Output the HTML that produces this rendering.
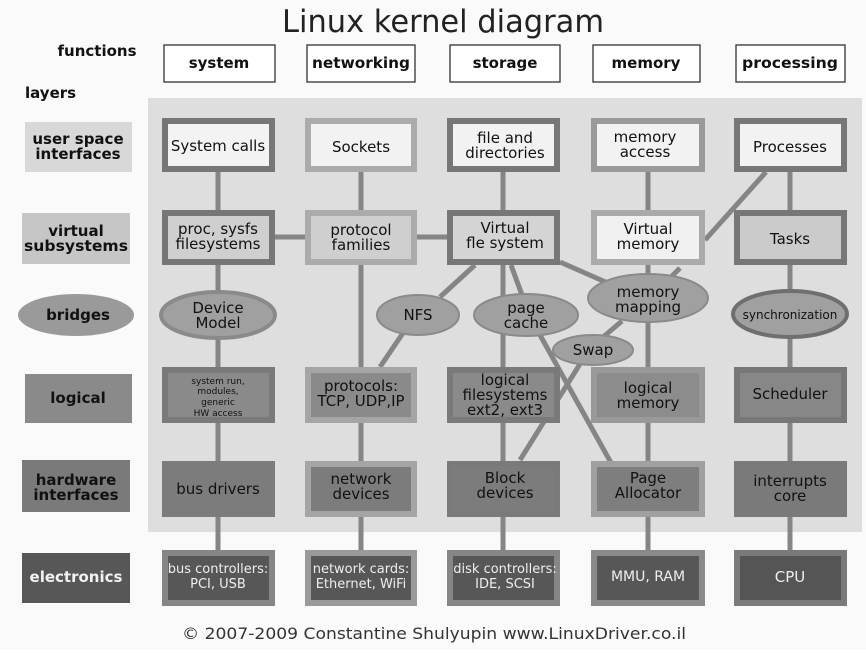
<!DOCTYPE html>
<html><head><meta charset="utf-8"><style>
html,body{margin:0;padding:0;background:#fff;}
svg text{font-family:"DejaVu Sans","Liberation Sans",sans-serif;}
</style></head><body>
<svg width="866" height="650" viewBox="0 0 866 650" xmlns="http://www.w3.org/2000/svg">
<rect width="866" height="650" fill="#fafafa"/>
<text x="443" y="32" font-size="31" text-anchor="middle" fill="#222" textLength="322" lengthAdjust="spacingAndGlyphs">Linux kernel diagram</text>
<g font-weight="bold" font-size="15" fill="#111">
<text x="97" y="56" text-anchor="middle">functions</text>
<text x="25" y="98">layers</text>
</g>
<g fill="#fff" stroke="#333" stroke-width="1.3">
<rect x="164" y="45" width="111" height="37"/>
<rect x="307" y="45" width="108" height="37"/>
<rect x="450" y="45" width="110" height="37"/>
<rect x="593" y="45" width="107" height="37"/>
<rect x="736" y="45" width="109" height="37"/>
</g>
<g font-weight="bold" font-size="15" fill="#111" text-anchor="middle">
<text x="219" y="68">system</text>
<text x="361" y="68" textLength="98" lengthAdjust="spacingAndGlyphs">networking</text>
<text x="505" y="68">storage</text>
<text x="646" y="68">memory</text>
<text x="790" y="68" textLength="96" lengthAdjust="spacingAndGlyphs">processing</text>
</g>
<!-- panel -->
<rect x="148" y="98" width="714" height="434" fill="#dedede"/>
<!-- left labels -->
<rect x="25" y="122" width="107" height="50" fill="#d8d8d8"/>
<rect x="22" y="213" width="108" height="51" fill="#c6c6c6"/>
<ellipse cx="76" cy="315" rx="58" ry="21" fill="#9a9a9a"/>
<rect x="25" y="374" width="107" height="49" fill="#8a8a8a"/>
<rect x="22" y="460" width="108" height="52" fill="#7a7a7a"/>
<rect x="22" y="553" width="108" height="50" fill="#575757"/>
<g font-weight="bold" font-size="15" fill="#111" text-anchor="middle">
<text x="78" y="144">user space</text><text x="78" y="159">interfaces</text>
<text x="76" y="236">virtual</text><text x="76" y="251" textLength="104" lengthAdjust="spacingAndGlyphs">subsystems</text>
<text x="78" y="320">bridges</text>
<text x="78" y="403">logical</text>
<text x="76" y="485">hardware</text><text x="76" y="500">interfaces</text>
<text x="76" y="582" fill="#f2f2f2">electronics</text>
</g>
<!-- connectors -->
<g stroke="#858585" stroke-width="5" fill="none">
<line x1="218" y1="172" x2="218" y2="550"/>
<line x1="361" y1="172" x2="361" y2="550"/>
<line x1="503" y1="172" x2="503" y2="550"/>
<line x1="648" y1="172" x2="648" y2="550"/>
<line x1="790" y1="172" x2="790" y2="550"/>
<line x1="275" y1="237" x2="447" y2="237"/>
<line x1="475" y1="265" x2="440" y2="297"/>
<line x1="403" y1="333" x2="380" y2="367"/>
<line x1="511" y1="265" x2="522" y2="295"/>
<line x1="560" y1="262" x2="610" y2="284"/>
<line x1="766" y1="172" x2="705" y2="240"/>
<line x1="680" y1="268" x2="672" y2="276"/>
<line x1="540" y1="335" x2="615" y2="470"/>
<line x1="622" y1="321" x2="602" y2="338"/>
<line x1="580" y1="364" x2="520" y2="460"/>
</g>
<g stroke-width="6">
<rect x="165" y="121" width="107" height="48" fill="#f3f3f3" stroke="#777"/>
<rect x="308" y="121" width="106" height="48" fill="#f2f2f2" stroke="#ababab"/>
<rect x="450" y="121" width="107" height="48" fill="#f2f2f2" stroke="#777"/>
<rect x="594" y="121" width="108" height="48" fill="#f2f2f2" stroke="#9a9a9a"/>
<rect x="737" y="121" width="107" height="48" fill="#f2f2f2" stroke="#777"/>
<rect x="165" y="213" width="107" height="49" fill="#cfcfcf" stroke="#777"/>
<rect x="308" y="213" width="106" height="49" fill="#cfcfcf" stroke="#ababab"/>
<rect x="450" y="213" width="107" height="49" fill="#d4d4d4" stroke="#777"/>
<rect x="594" y="213" width="108" height="49" fill="#f0f0f0" stroke="#aaa"/>
<rect x="737" y="213" width="107" height="49" fill="#cbcbcb" stroke="#777"/>
<rect x="165" y="370" width="107" height="50" fill="#8a8a8a" stroke="#7a7a7a"/>
<rect x="308" y="370" width="106" height="50" fill="#8a8a8a" stroke="#a5a5a5"/>
<rect x="450" y="370" width="107" height="50" fill="#8a8a8a" stroke="#7a7a7a"/>
<rect x="594" y="370" width="108" height="50" fill="#8c8c8c" stroke="#999"/>
<rect x="737" y="370" width="107" height="50" fill="#878787" stroke="#777"/>
<rect x="165" y="464" width="107" height="50" fill="#7c7c7c" stroke="#7c7c7c"/>
<rect x="308" y="464" width="106" height="50" fill="#7c7c7c" stroke="#a5a5a5"/>
<rect x="450" y="464" width="107" height="50" fill="#7c7c7c" stroke="#7a7a7a"/>
<rect x="594" y="464" width="108" height="50" fill="#7e7e7e" stroke="#a0a0a0"/>
<rect x="737" y="464" width="107" height="50" fill="#7a7a7a" stroke="#7a7a7a"/>
<rect x="165" y="553" width="107" height="50" fill="#575757" stroke="#868686"/>
<rect x="308" y="553" width="106" height="50" fill="#575757" stroke="#9a9a9a"/>
<rect x="450" y="553" width="107" height="50" fill="#575757" stroke="#868686"/>
<rect x="594" y="553" width="108" height="50" fill="#575757" stroke="#8a8a8a"/>
<rect x="737" y="553" width="107" height="50" fill="#555" stroke="#7a7a7a"/>
</g>
<g stroke-width="4">
<ellipse cx="218" cy="315" rx="57" ry="23" fill="#a0a0a0" stroke="#8a8a8a"/>
<ellipse cx="418" cy="315" rx="41" ry="20" fill="#a0a0a0" stroke="#8a8a8a" stroke-width="2"/>
<ellipse cx="526" cy="315" rx="52" ry="21" fill="#a0a0a0" stroke="#8a8a8a" stroke-width="2"/>
<ellipse cx="648" cy="298" rx="60" ry="24" fill="#a0a0a0" stroke="#8a8a8a" stroke-width="2"/>
<ellipse cx="593" cy="350" rx="40" ry="15" fill="#a0a0a0" stroke="#8a8a8a" stroke-width="2"/>
<ellipse cx="790" cy="314" rx="57" ry="23" fill="#a0a0a0" stroke="#6f6f6f"/>
</g>
<g font-size="15" fill="#111" text-anchor="middle">
<text x="218" y="151">System calls</text>
<text x="361" y="152">Sockets</text>
<text x="505" y="143">file and</text><text x="505" y="158">directories</text>
<text x="645" y="142">memory</text><text x="645" y="157">access</text>
<text x="790" y="152">Processes</text>
<text x="218" y="234">proc, sysfs</text><text x="218" y="249">filesystems</text>
<text x="361" y="235">protocol</text><text x="361" y="250">families</text>
<text x="505" y="233">Virtual</text><text x="505" y="248">fle system</text>
<text x="648" y="234">Virtual</text><text x="648" y="249">memory</text>
<text x="790" y="244">Tasks</text>
<text x="218" y="313">Device</text><text x="218" y="328">Model</text>
<text x="418" y="320">NFS</text>
<text x="526" y="313">page</text><text x="526" y="328">cache</text>
<text x="648" y="297">memory</text><text x="648" y="312">mapping</text>
<text x="593" y="355">Swap</text>
<text x="790" y="319" font-size="12">synchronization</text>
<text x="218" y="384" font-size="9">system run,</text><text x="218" y="394" font-size="9">modules,</text><text x="218" y="405" font-size="9">generic</text><text x="218" y="416" font-size="9">HW access</text>
<text x="361" y="391">protocols:</text><text x="361" y="406">TCP, UDP,IP</text>
<text x="505" y="385">logical</text><text x="505" y="400">filesystems</text><text x="505" y="415">ext2, ext3</text>
<text x="648" y="393">logical</text><text x="648" y="408">memory</text>
<text x="790" y="399">Scheduler</text>
<text x="218" y="494">bus drivers</text>
<text x="361" y="484">network</text><text x="361" y="499">devices</text>
<text x="505" y="483">Block</text><text x="505" y="498">devices</text>
<text x="648" y="483">Page</text><text x="648" y="498">Allocator</text>
<text x="790" y="486">interrupts</text><text x="790" y="501">core</text>
</g>
<g font-size="13" fill="#eee" text-anchor="middle">
<text x="218" y="573">bus controllers:</text><text x="218" y="588">PCI, USB</text>
<text x="361" y="573">network cards:</text><text x="361" y="588">Ethernet, WiFi</text>
<text x="505" y="573">disk controllers:</text><text x="505" y="588">IDE, SCSI</text>
<text x="648" y="581" font-size="14">MMU, RAM</text>
<text x="790" y="582" font-size="15">CPU</text>
</g>
<text x="434" y="639" font-size="16" fill="#333" text-anchor="middle" textLength="504" lengthAdjust="spacingAndGlyphs">© 2007-2009 Constantine Shulyupin www.LinuxDriver.co.il</text>
</svg>
</body></html>
